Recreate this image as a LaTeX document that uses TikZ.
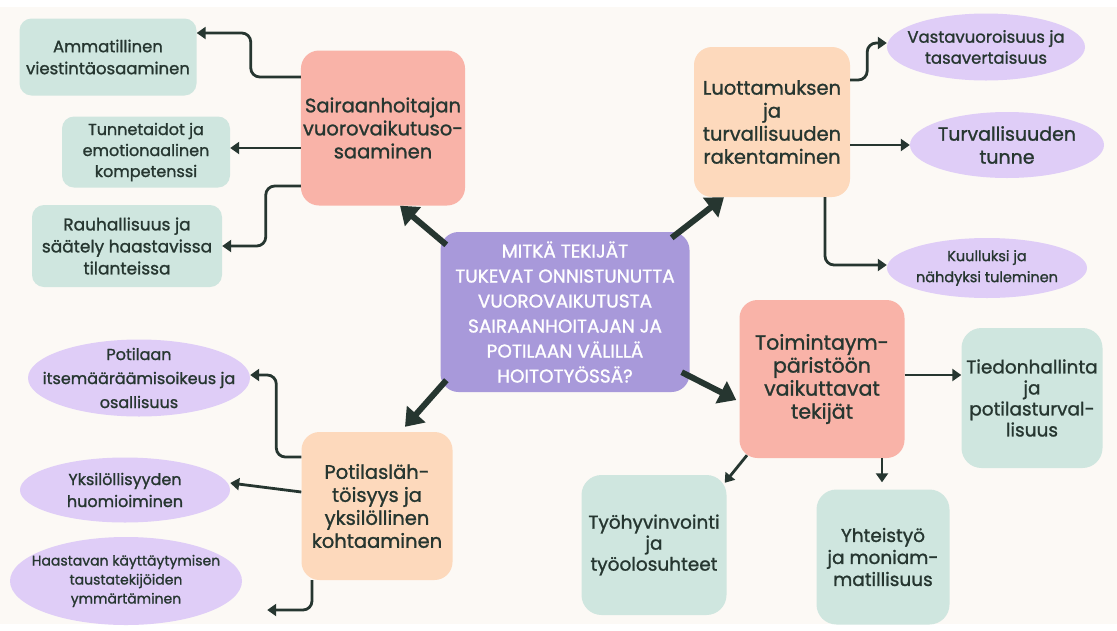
\documentclass[tikz,border=0pt]{standalone}
\usepackage{fontspec}
\setmainfont{Poppins}[RawFeature={embolden=1.2}]
\usetikzlibrary{arrows.meta,shapes.geometric}
\definecolor{bgcream}{HTML}{FCF9F5}
\definecolor{mint}{HTML}{CFE6DF}
\definecolor{salmon}{HTML}{F9B3A8}
\definecolor{peach}{HTML}{FDD9BC}
\definecolor{lilac}{HTML}{DFCDF7}
\definecolor{violet}{HTML}{A899DA}
\definecolor{ink}{HTML}{263630}

\begin{document}
\begin{tikzpicture}[x=1pt,y=-1pt,
  box/.style={rounded corners=18pt, align=center, text=ink, inner sep=2pt},
  hub/.style={box, fill=violet, text=white, font=\fontsize{18.5}{25}\selectfont},
  topic/.style={box, font=\fontsize{19.5}{23}\selectfont},
  leaf/.style={box, fill=mint, rounded corners=12pt, font=\fontsize{16.5}{22}\selectfont},
  oval/.style={ellipse, fill=lilac, align=center, text=ink, inner xsep=-25pt, inner ysep=-10pt, font=\fontsize{15}{21}\selectfont},
  arr/.style={draw=ink, line width=2.8pt, -{Triangle[length=9pt,width=12pt]}, rounded corners=9pt},
  bigarr/.style={draw=ink, line width=6pt, -{Triangle[length=17pt,width=24pt]}}
]
\useasboundingbox (0,0) rectangle (1117,630);
\fill[white] (0,0) rectangle (1117,630);
\fill[bgcream] (0,7) rectangle (1117,624);

\node[hub, minimum width=249pt, minimum height=160pt] (0) at (565,312) {MITKÄ TEKIJÄT\\TUKEVAT ONNISTUNUTTA\\VUOROVAIKUTUSTA\\SAIRAANHOITAJAN JA\\POTILAAN VÄLILLÄ\\HOITOTYÖSSÄ?};

\node[topic, fill=salmon, minimum width=163pt, minimum height=155pt] (1) at (383,128) {Sairaanhoitajan\\vuorovaikutuso-\\saaminen};
\node[topic, fill=peach, minimum width=156pt, minimum height=150pt] (2) at (772,122) {Luottamuksen\\ja\\turvallisuuden\\rakentaminen};
\node[topic, fill=peach, minimum width=151pt, minimum height=148pt] (3) at (377,506) {Potilasläh-\\töisyys ja\\yksilöllinen\\kohtaaminen};
\node[topic, fill=salmon, minimum width=165pt, minimum height=158pt, font=\fontsize{20.5}{23}\selectfont] (4) at (822,379) {Toimintaym-\\päristöön\\vaikuttavat\\tekijät};

\node[leaf, minimum width=177pt, minimum height=77pt] (5) at (108,57) {Ammatillinen\\viestintäosaaminen};
\node[leaf, minimum width=168pt, minimum height=71pt, font=\fontsize{16}{21}\selectfont] (6) at (146,152) {Tunnetaidot ja\\emotionaalinen\\kompetenssi};
\node[leaf, minimum width=190pt, minimum height=82pt, font=\fontsize{17}{22}\selectfont] (7) at (127,246) {Rauhallisuus ja\\säätely haastavissa\\tilanteissa};

\node[oval, minimum width=198pt, minimum height=67pt, font=\fontsize{16.5}{21}\selectfont] (8) at (986,47) {Vastavuoroisuus ja\\tasavertaisuus};
\node[oval, minimum width=194pt, minimum height=66pt, font=\fontsize{19}{23}\selectfont] (9) at (1007,145) {Turvallisuuden\\tunne};
\node[oval, minimum width=200pt, minimum height=60pt, font=\fontsize{14.5}{21}\selectfont] (10) at (987,268) {Kuulluksi ja\\nähdyksi tuleminen};

\node[oval, minimum width=222pt, minimum height=77pt, font=\fontsize{16}{24}\selectfont] (11) at (139,378) {Potilaan\\itsemääräämisoikeus ja\\osallisuus};
\node[oval, minimum width=210pt, minimum height=65pt, font=\fontsize{16}{22}\selectfont] (12) at (125,490) {Yksilöllisyyden\\huomioiminen};
\node[oval, minimum width=232pt, minimum height=88pt, font=\fontsize{14}{19}\selectfont] (13) at (126,581) {Haastavan käyttäytymisen\\taustatekijöiden\\ymmärtäminen};

\node[leaf, rounded corners=20pt, minimum width=141pt, minimum height=140pt, font=\fontsize{18.5}{21}\selectfont] (14) at (1032,398) {Tiedonhallinta\\ja\\potilasturval-\\lisuus};
\node[leaf, rounded corners=20pt, minimum width=145pt, minimum height=140pt, font=\fontsize{18.5}{21}\selectfont] (15) at (654,545) {Työhyvinvointi\\ja\\työolosuhteet};
\node[leaf, rounded corners=20pt, minimum width=133pt, minimum height=135pt, font=\fontsize{18.5}{22}\selectfont] (16) at (883,557) {Yhteistyö\\ja moniam-\\matillisuus};

% hub to topics
\path[bigarr] ([xshift=6pt,yshift=-13pt]0.north west) -- ([xshift=17pt]1.south);
\path[bigarr] ([xshift=-18pt,yshift=-6pt]0.north east) -- ([xshift=-48pt]2.south);
\path[bigarr] ([xshift=6pt,yshift=12pt]0.south west) -- ([xshift=28pt,yshift=5pt]3.north);
\path[bigarr] ([xshift=-8pt,yshift=20pt]0.south east) -- ([xshift=-3pt,yshift=-21pt]4.west);

% topics to leaves
\path[arr] ([yshift=51pt]1.west) -- ++(-50,0) |- ([yshift=24pt]5.east);
\path[arr] ([yshift=-20pt]1.west) -- ([yshift=4pt]6.east);
\path[arr] ([yshift=-58pt]1.west) -- ++(-35,0) |- (7.east);

\path[arr] ([yshift=42pt]2.east) -- ++(17,0) |- ([yshift=4pt]8.west);
\path[arr] ([yshift=-23pt]2.east) -- (9.west);
\path[arr] ([xshift=53pt]2.south) |- ([yshift=3pt]10.west);

\path[arr] ([yshift=49pt]3.west) -- ++(-25,0) |- ([yshift=3pt]11.east);
\path[arr] ([yshift=14pt]3.west) -- ([yshift=7pt]12.east);
\path[arr] ([xshift=-65pt]3.south) |- ([xshift=25pt,yshift=-29pt]13.east);

\path[arr] ([yshift=4pt]4.east) -- ([yshift=23pt]14.west);
\path[arr] ([xshift=-75pt,yshift=3pt]4.south) -- ([xshift=-2pt,yshift=-8pt]15.north east);
\path[arr] ([xshift=60pt]4.south) -- ([xshift=-1pt,yshift=7pt]16.north);
\end{tikzpicture}
\end{document}
